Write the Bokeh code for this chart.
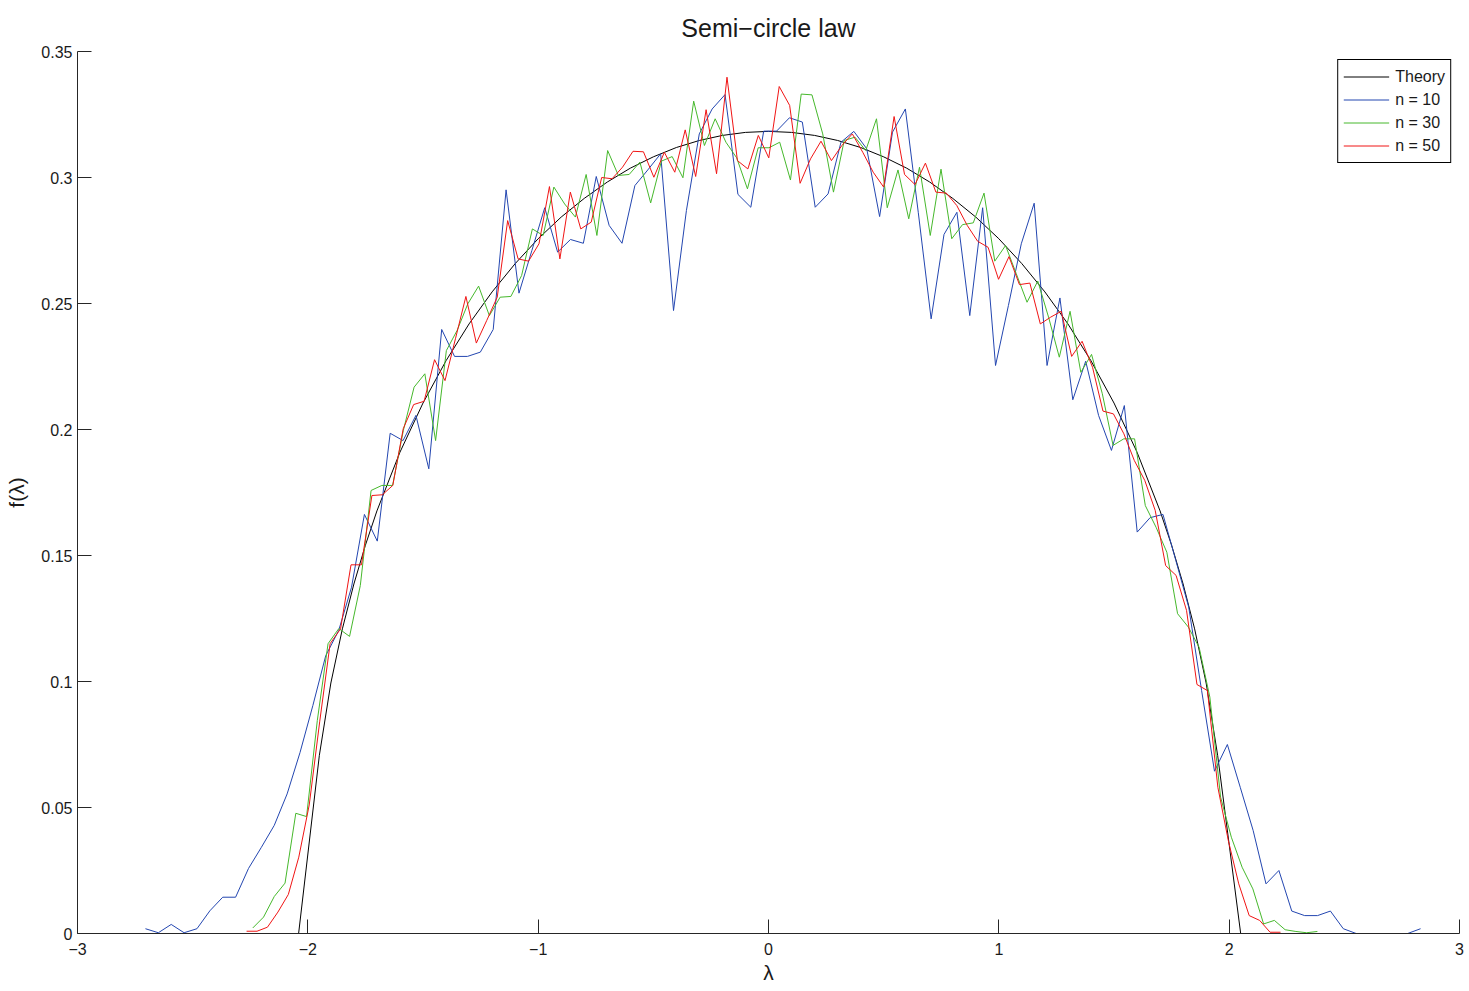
import numpy as np
from bokeh.plotting import figure
from bokeh.models import Range1d, FixedTicker, CustomJSTickFormatter
from bokeh.embed import file_html
from bokeh.resources import INLINE

# Semi-circle law: theoretical density
theory_x = [-2.04, -1.95, -1.9, -1.85, -1.8, -1.75, -1.7, -1.6, -1.5, -1.4, -1.3,
            -1.2, -1.1, -1.0, -0.9, -0.8, -0.7, -0.6, -0.5, -0.4, -0.3, -0.2, -0.1,
            0.0, 0.1, 0.2, 0.3, 0.4, 0.5, 0.6, 0.7, 0.8, 0.9, 1.0, 1.1, 1.2, 1.3,
            1.4, 1.5, 1.6, 1.7, 1.75, 1.8, 1.85, 1.9, 1.95, 2.05]
theory_y = [0.0, 0.0707, 0.0994, 0.1209, 0.1387, 0.1541, 0.1677, 0.1910, 0.2105,
            0.2273, 0.2419, 0.2546, 0.2658, 0.2757, 0.2843, 0.2917, 0.2982, 0.3037,
            0.3082, 0.3119, 0.3147, 0.3167, 0.3179, 0.3183, 0.3179, 0.3167, 0.3147,
            0.3119, 0.3082, 0.3037, 0.2982, 0.2917, 0.2843, 0.2757, 0.2658, 0.2546,
            0.2419, 0.2273, 0.2105, 0.1910, 0.1677, 0.1541, 0.1387, 0.1209, 0.0994,
            0.0707, 0.0]

# Empirical eigenvalue densities (100-bin histograms), first/last bin centres
n10_first, n10_last = -2.705, 2.831
n10_density = [
    0.0019, 0.0003, 0.0036, 0.0003, 0.0019, 0.0090, 0.0144, 0.0144, 0.0258, 0.0342,
    0.0429, 0.0554, 0.0718, 0.0905, 0.1103, 0.1202, 0.1374, 0.1663, 0.1557, 0.1985,
    0.1956, 0.2056, 0.1844, 0.2397, 0.2290, 0.2290, 0.2307, 0.2397, 0.2951, 0.2541,
    0.2710, 0.2880, 0.2704, 0.2754, 0.2739, 0.3004, 0.2810, 0.2739, 0.2968, 0.3030,
    0.3094, 0.2472, 0.2869, 0.3173, 0.3272, 0.3329, 0.2933, 0.2882, 0.3184, 0.3184,
    0.3237, 0.3220, 0.2882, 0.2935, 0.3140, 0.3183, 0.3114, 0.2845, 0.3180, 0.3272,
    0.2862, 0.2439, 0.2774, 0.2862, 0.2452, 0.2880, 0.2254, 0.2492, 0.2737, 0.2898,
    0.2254, 0.2522, 0.2118, 0.2271, 0.2056, 0.1917, 0.2095, 0.1593, 0.1650, 0.1663,
    0.1480, 0.1295, 0.0964, 0.0644, 0.0750, 0.0580, 0.0409, 0.0197, 0.0250, 0.0089,
    0.0071, 0.0071, 0.0089, 0.0019, 0.0000, 0.0000, 0.0000, 0.0000, 0.0000, 0.0019]

n30_first, n30_last = -2.239, 2.383
n30_density = [
    0.0022, 0.0065, 0.0147, 0.0200, 0.0477, 0.0464, 0.0845, 0.1150, 0.1210, 0.1179,
    0.1381, 0.1758, 0.1778, 0.1778, 0.1996, 0.2168, 0.2221, 0.1956, 0.2313, 0.2393,
    0.2499, 0.2569, 0.2452, 0.2525, 0.2528, 0.2611, 0.2796, 0.2770, 0.2962, 0.2895,
    0.2843, 0.3012, 0.2770, 0.3107, 0.3008, 0.3012, 0.3061, 0.2899, 0.3065, 0.3083,
    0.2999, 0.3303, 0.3127, 0.3233, 0.3140, 0.3078, 0.2955, 0.3118, 0.3118, 0.3140,
    0.2990, 0.3331, 0.3328, 0.3173, 0.2942, 0.3147, 0.3160, 0.3107, 0.3233, 0.2880,
    0.3030, 0.2836, 0.3041, 0.2770, 0.3033, 0.2757, 0.2813, 0.2820, 0.2938, 0.2668,
    0.2730, 0.2618, 0.2505, 0.2589, 0.2446, 0.2287, 0.2469, 0.2227, 0.2298, 0.2142,
    0.1937, 0.1963, 0.1963, 0.1698, 0.1612, 0.1513, 0.1269, 0.1216, 0.1136, 0.0938,
    0.0541, 0.0382, 0.0263, 0.0177, 0.0038, 0.0052, 0.0015, 0.0008, 0.0003, 0.0008]

n50_first, n50_last = -2.266, 2.223
n50_density = [
    0.0009, 0.0009, 0.0025, 0.0085, 0.0155, 0.0303, 0.0510, 0.0840, 0.1150, 0.1209,
    0.1463, 0.1463, 0.1738, 0.1741, 0.1778, 0.2003, 0.2099, 0.2112, 0.2277, 0.2194,
    0.2360, 0.2528, 0.2343, 0.2433, 0.2525, 0.2829, 0.2677, 0.2668, 0.2737, 0.2964,
    0.2677, 0.2942, 0.2796, 0.2823, 0.3000, 0.2995, 0.3041, 0.3104, 0.3102, 0.3001,
    0.3100, 0.3021, 0.3189, 0.3004, 0.3269, 0.3015, 0.3398, 0.3067, 0.3034, 0.3167,
    0.3078, 0.3361, 0.3286, 0.2977, 0.3074, 0.3144, 0.3067, 0.3127, 0.3173, 0.3100,
    0.3021, 0.2962, 0.3242, 0.3012, 0.2972, 0.3057, 0.2942, 0.2938, 0.2889, 0.2810,
    0.2747, 0.2723, 0.2596, 0.2686, 0.2575, 0.2581, 0.2419, 0.2446, 0.2469, 0.2290,
    0.2350, 0.2247, 0.2073, 0.2062, 0.1983, 0.1877, 0.1798, 0.1679, 0.1460, 0.1421,
    0.1282, 0.0988, 0.0964, 0.0580, 0.0369, 0.0197, 0.0071, 0.0052, 0.0005, 0.0005]

x_ticks = [-3, -2, -1, 0, 1, 2, 3]
y_ticks = [0, 0.05, 0.1, 0.15, 0.2, 0.25, 0.3, 0.35]

FONT = "Liberation Sans"

p = figure(
    width=1469, height=991,
    frame_width=1382, frame_height=882,
    min_border_left=77, min_border_right=10, min_border_top=51, min_border_bottom=58,
    x_range=Range1d(-3, 3), y_range=Range1d(0, 0.35),
    output_backend="svg", toolbar_location=None,
    title="Semi\u2212circle law",
)
p.background_fill_color = "white"
p.border_fill_color = "white"
p.outline_line_color = None
p.grid.visible = False

p.title.align = "center"
p.title.text_font = FONT
p.title.text_font_size = "25px"
p.title.text_font_style = "normal"
p.title.text_color = "#1a1a1a"
p.title.standoff = 20

fmt = CustomJSTickFormatter(code="return String(tick).replace('-', '\u2212');")
for ax, ticks in ((p.xaxis, x_ticks), (p.yaxis, y_ticks)):
    ax.ticker = FixedTicker(ticks=ticks)
    ax.formatter = fmt
    ax.minor_tick_line_color = None
    ax.major_tick_in = 14
    ax.major_tick_out = 0
    ax.axis_line_color = "#262626"
    ax.major_tick_line_color = "#262626"
    ax.major_label_text_font = FONT
    ax.major_label_text_font_size = "16px"
    ax.major_label_text_color = "#1a1a1a"
    ax.axis_label_text_font = FONT
    ax.axis_label_text_font_size = "21px"
    ax.axis_label_text_font_style = "normal"
    ax.axis_label_text_color = "#1a1a1a"

p.xaxis.major_label_standoff = 9
p.yaxis.major_label_standoff = 5
p.xaxis.axis_label = "\u03bb"
p.yaxis.axis_label = "f(\u03bb)"
p.xaxis.axis_label_standoff = 3
p.yaxis.axis_label_standoff = 10

p.line(theory_x, theory_y, line_color="black", line_width=1, legend_label="Theory")
p.line(np.linspace(n10_first, n10_last, len(n10_density)), n10_density,
       line_color="#2346b0", line_width=1, legend_label="n = 10")
p.line(np.linspace(n30_first, n30_last, len(n30_density)), n30_density,
       line_color="#46b82c", line_width=1, legend_label="n = 30")
p.line(np.linspace(n50_first, n50_last, len(n50_density)), n50_density,
       line_color="#f01414", line_width=1, legend_label="n = 50")

lg = p.legend[0]
lg.location = "top_right"
lg.margin = 8
lg.padding = 5
lg.spacing = 0
lg.glyph_width = 46
lg.glyph_height = 23
lg.label_height = 23
lg.label_standoff = 6
lg.label_text_font = FONT
lg.label_text_font_size = "16px"
lg.label_text_color = "#1a1a1a"
lg.border_line_color = "black"
lg.border_line_width = 1
lg.border_line_alpha = 1
lg.background_fill_alpha = 1

open("out.html", "w").write(file_html(p, INLINE))
